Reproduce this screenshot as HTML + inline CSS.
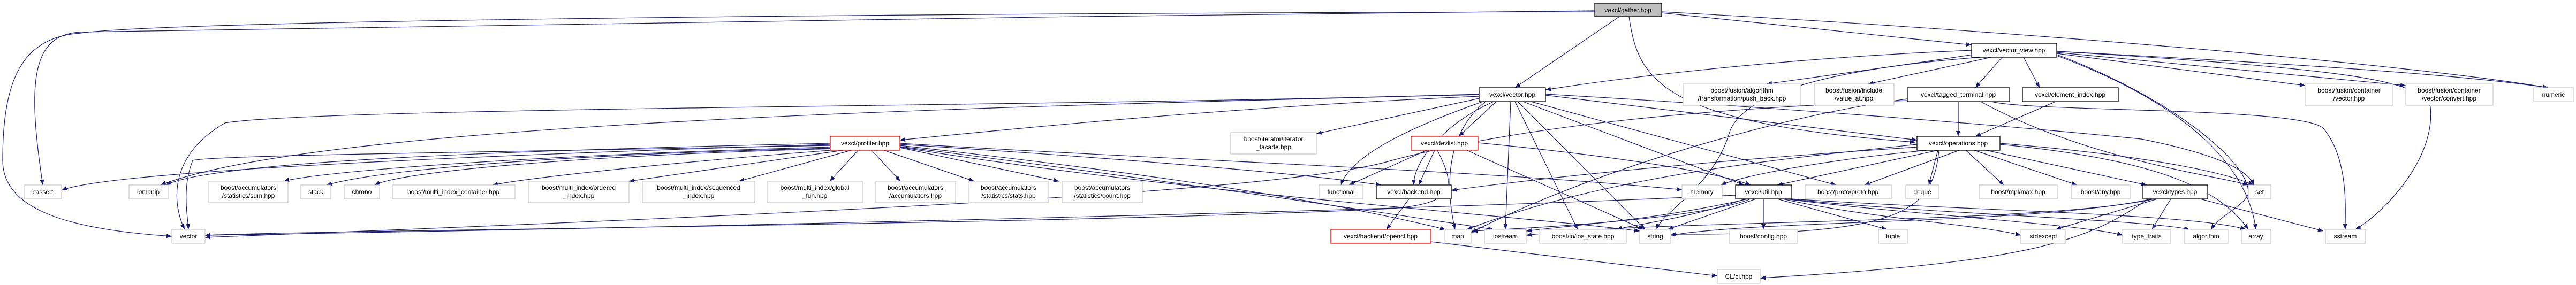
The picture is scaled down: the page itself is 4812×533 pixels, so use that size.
<!DOCTYPE html>
<html><head><meta charset="utf-8"><style>
html,body{margin:0;padding:0;background:#fff;}
svg{display:block;}
text{font-family:"Liberation Sans",sans-serif;font-size:12px;fill:#000;text-anchor:middle;}
.e{fill:none;stroke:#191970;stroke-width:1.2;marker-end:url(#a);}
.l{fill:#fff;stroke:#bfbfbf;}
.d{fill:#fff;stroke:#000;stroke-width:1.3;}
.r{fill:#fff;stroke:#ff0000;stroke-width:1.3;}
</style></head><body>
<svg width="4812" height="533" viewBox="0 0 4812 533" xmlns="http://www.w3.org/2000/svg">
<defs><marker id="a" markerUnits="userSpaceOnUse" markerWidth="10" markerHeight="8" refX="10" refY="4" orient="auto"><path d="M0,0 L10,4 L0,8 z" fill="#191970"/></marker></defs>
<g>
<!-- gather -->
<path class="e" d="M3025,31 L2830,164"/>
<path class="e" d="M3043,31 C3060,150 3100,230 3578,266"/>
<path class="e" d="M3104,24 L3683,84"/>
<path class="e" d="M3104,22 C3800,60 4500,120 4760,164"/>
<path class="e" d="M2979,20 C2000,30 500,50 150,60 C60,65 50,150 80,346"/>
<path class="e" d="M2979,22 C1500,25 300,40 150,62 C40,70 5,150 5,300 C5,400 150,430 321,442"/>
<!-- vector_view -->
<path class="e" d="M3683,94 C3300,110 3000,150 2887,168"/>
<path class="e" d="M3700,100 C3500,130 3350,150 3300,157"/>
<path class="e" d="M3720,107 L3490,157"/>
<path class="e" d="M3740,107 L3690,164"/>
<path class="e" d="M3780,107 L3810,164"/>
<path class="e" d="M3842,100 L4306,160"/>
<path class="e" d="M3842,98 L4494,160"/>
<path class="e" d="M3842,96 C4300,120 4600,140 4760,164"/>
<path class="e" d="M3842,102 C4050,180 4200,300 4200,360 C4200,380 4150,400 4130,429"/>
<path class="e" d="M3842,104 C4100,200 4200,320 4214,429"/>
<path class="e" d="M3842,96 C4400,130 4520,150 4540,200 C4550,300 4450,400 4400,429"/>
<path class="e" d="M3700,107 C3400,130 3250,180 3230,250 C3200,350 3100,400 3095,429"/>
<!-- vexcl/vector -->
<path class="e" d="M2763,180 C2300,200 1900,240 1681,262"/>
<path class="e" d="M2763,184 L2459,250"/>
<path class="e" d="M2795,190 L2725,255"/>
<path class="e" d="M2790,190 C2700,230 2640,300 2641,346"/>
<path class="e" d="M2770,190 C2600,250 2520,300 2505,346"/>
<path class="e" d="M2822,190 L2812,429"/>
<path class="e" d="M2830,190 L2947,429"/>
<path class="e" d="M2835,190 L3073,429"/>
<path class="e" d="M2845,190 L3258,346"/>
<path class="e" d="M2860,190 L3430,346"/>
<path class="e" d="M2887,178 L3581,262"/>
<path class="e" d="M2887,176 C3300,200 3700,230 4000,260 C4150,290 4200,320 4210,346"/>
<path class="e" d="M2775,190 C2700,250 2700,350 2718,429"/>
<path class="e" d="M2763,176 C2000,200 600,200 420,230 C300,300 330,400 345,429"/>
<path class="e" d="M2763,177 C1800,200 600,230 300,346"/>
<!-- profiler -->
<path class="e" d="M1551,270 C900,290 200,320 115,356"/>
<path class="e" d="M1551,268 C1000,280 400,300 310,346"/>
<path class="e" d="M1551,272 C900,285 400,290 360,300 C340,350 350,400 352,429"/>
<path class="e" d="M1551,275 C1000,290 600,320 530,339"/>
<path class="e" d="M1555,277 C1000,290 700,320 610,346"/>
<path class="e" d="M1560,278 C1100,290 750,320 700,346"/>
<path class="e" d="M1565,280 C1300,300 1000,330 920,346"/>
<path class="e" d="M1575,281 L1175,339"/>
<path class="e" d="M1590,281 L1380,339"/>
<path class="e" d="M1603,281 L1550,339"/>
<path class="e" d="M1628,281 L1682,339"/>
<path class="e" d="M1651,281 L1820,339"/>
<path class="e" d="M1681,276 L1978,339"/>
<path class="e" d="M1681,268 C2200,300 2800,320 3142,355"/>
<path class="e" d="M1681,270 C2000,290 2400,320 2580,346"/>
<path class="e" d="M1681,272 C2200,330 2500,380 2700,429"/>
<path class="e" d="M1681,274 C2200,340 2600,400 2790,429"/>
<path class="e" d="M1681,275 C2200,360 2800,400 3063,432"/>
<!-- devlist -->
<path class="e" d="M2665,281 L2520,346"/>
<path class="e" d="M2680,281 L2650,346"/>
<path class="e" d="M2761,267 C3000,290 3200,320 3270,346"/>
<path class="e" d="M2740,281 L3070,429"/>
<path class="e" d="M2685,281 C2720,350 2720,380 2600,390 C2000,420 600,430 383,440"/>
<!-- backend/opencl -->
<path class="e" d="M2632,372 L2590,429"/>
<path class="e" d="M2673,452 L3208,516"/>
<path class="e" d="M4013,372 C3900,450 3800,490 3288,520"/>
<!-- util -->
<path class="e" d="M3270,372 C3200,400 3000,420 2750,432"/>
<path class="e" d="M3265,372 C3100,410 2950,420 2851,432"/>
<path class="e" d="M3260,372 C3150,410 3050,420 3020,429"/>
<path class="e" d="M3280,372 L3115,429"/>
<path class="e" d="M3294,372 L3294,429"/>
<path class="e" d="M3320,372 L3525,429"/>
<path class="e" d="M3330,372 C3500,410 3700,420 3775,440"/>
<path class="e" d="M3335,372 C3550,400 3900,420 3965,440"/>
<path class="e" d="M3340,372 C3600,400 4000,410 4090,429"/>
<path class="e" d="M3345,372 C3700,395 4100,400 4195,429"/>
<path class="e" d="M3242,365 C2500,400 1000,430 383,440"/>
<!-- operations -->
<path class="e" d="M3581,275 C3200,300 2900,330 2711,356"/>
<path class="e" d="M3600,281 C3400,300 3250,330 3215,346"/>
<path class="e" d="M3620,281 L3320,346"/>
<path class="e" d="M3660,281 L3483,346"/>
<path class="e" d="M3620,281 L3603,346"/>
<path class="e" d="M3672,281 L3743,346"/>
<path class="e" d="M3688,281 L3880,346"/>
<path class="e" d="M3710,281 L4010,346"/>
<path class="e" d="M3736,268 C4000,290 4150,320 4210,346"/>
<path class="e" d="M3736,270 C4050,300 4150,360 4200,429"/>
<path class="e" d="M3581,270 C3300,300 3000,330 2740,429"/>
<path class="e" d="M3622,281 C3610,400 3550,440 3121,438"/>
<!-- types -->
<path class="e" d="M4030,372 L3840,429"/>
<path class="e" d="M4055,372 L4020,429"/>
<path class="e" d="M4110,372 L4340,432"/>
<path class="e" d="M4020,372 C3800,420 3300,410 3121,440"/>
<path class="e" d="M4025,372 C3800,420 3100,410 2851,440"/>
<!-- tagged / element_index -->
<path class="e" d="M3658,190 L3658,255"/>
<path class="e" d="M3700,190 C3900,300 4150,330 4200,346"/>
<path class="e" d="M3720,190 C3800,210 4300,200 4340,240 C4390,300 4380,400 4381,429"/>
<path class="e" d="M3563,185 C3300,220 2950,330 2748,435"/>
<path class="e" d="M3840,190 L3690,255"/>
<path class="e" d="M3563,188 C3300,200 2900,220 2600,300 C2400,360 1500,400 383,444"/>
</g>
<g>
<rect x="2979" y="6" width="125" height="25" fill="#bfbfbf" stroke="#000" stroke-width="1.3"/><text x="3041" y="23">vexcl/gather.hpp</text>
<rect class="d" x="3683" y="81" width="159" height="26"/><text x="3762" y="98">vexcl/vector_view.hpp</text>
<rect class="d" x="2763" y="164" width="124" height="26"/><text x="2825" y="181">vexcl/vector.hpp</text>
<rect class="l" x="3144" y="157" width="220" height="40"/><text x="3254" y="173">boost/fusion/algorithm</text><text x="3254" y="188">/transformation/push_back.hpp</text>
<rect class="l" x="3389" y="157" width="149" height="40"/><text x="3463" y="173">boost/fusion/include</text><text x="3463" y="188">/value_at.hpp</text>
<rect class="d" x="3563" y="164" width="191" height="26"/><text x="3658" y="181">vexcl/tagged_terminal.hpp</text>
<rect class="d" x="3778" y="164" width="179" height="26"/><text x="3867" y="181">vexcl/element_index.hpp</text>
<rect class="l" x="4306" y="157" width="164" height="40"/><text x="4388" y="173">boost/fusion/container</text><text x="4388" y="188">/vector.hpp</text>
<rect class="l" x="4494" y="157" width="163" height="40"/><text x="4575" y="173">boost/fusion/container</text><text x="4575" y="188">/vector/convert.hpp</text>
<rect class="l" x="4733" y="164" width="74" height="26"/><text x="4770" y="181">numeric</text>
<rect class="l" x="2299" y="248" width="160" height="40"/><text x="2379" y="264">boost/iterator/iterator</text><text x="2379" y="279">_facade.hpp</text>
<rect class="r" x="1551" y="255" width="130" height="26"/><text x="1616" y="272">vexcl/profiler.hpp</text>
<rect class="r" x="2636" y="255" width="125" height="26"/><text x="2698" y="272">vexcl/devlist.hpp</text>
<rect class="d" x="3581" y="255" width="155" height="26"/><text x="3658" y="272">vexcl/operations.hpp</text>
<rect class="l" x="46" y="346" width="69" height="26"/><text x="80" y="363">cassert</text>
<rect class="l" x="241" y="346" width="73" height="26"/><text x="277" y="363">iomanip</text>
<rect class="l" x="390" y="339" width="148" height="40"/><text x="464" y="355">boost/accumulators</text><text x="464" y="370">/statistics/sum.hpp</text>
<rect class="l" x="562" y="346" width="56" height="26"/><text x="590" y="363">stack</text>
<rect class="l" x="643" y="346" width="66" height="26"/><text x="676" y="363">chrono</text>
<rect class="l" x="733" y="346" width="229" height="26"/><text x="847" y="363">boost/multi_index_container.hpp</text>
<rect class="l" x="987" y="339" width="188" height="40"/><text x="1081" y="355">boost/multi_index/ordered</text><text x="1081" y="370">_index.hpp</text>
<rect class="l" x="1200" y="339" width="210" height="40"/><text x="1305" y="355">boost/multi_index/sequenced</text><text x="1305" y="370">_index.hpp</text>
<rect class="l" x="1434" y="339" width="177" height="40"/><text x="1522" y="355">boost/multi_index/global</text><text x="1522" y="370">_fun.hpp</text>
<rect class="l" x="1636" y="339" width="149" height="40"/><text x="1710" y="355">boost/accumulators</text><text x="1710" y="370">/accumulators.hpp</text>
<rect class="l" x="1810" y="339" width="148" height="40"/><text x="1884" y="355">boost/accumulators</text><text x="1884" y="370">/statistics/stats.hpp</text>
<rect class="l" x="1984" y="339" width="150" height="40"/><text x="2059" y="355">boost/accumulators</text><text x="2059" y="370">/statistics/count.hpp</text>
<rect class="l" x="2464" y="346" width="82" height="26"/><text x="2505" y="363">functional</text>
<rect class="d" x="2571" y="346" width="140" height="26"/><text x="2641" y="363">vexcl/backend.hpp</text>
<rect class="l" x="3142" y="346" width="75" height="26"/><text x="3179" y="363">memory</text>
<rect class="d" x="3242" y="346" width="105" height="26"/><text x="3294" y="363">vexcl/util.hpp</text>
<rect class="l" x="3372" y="346" width="161" height="26"/><text x="3452" y="363">boost/proto/proto.hpp</text>
<rect class="l" x="3560" y="346" width="62" height="26"/><text x="3591" y="363">deque</text>
<rect class="l" x="3697" y="346" width="146" height="26"/><text x="3770" y="363">boost/mpl/max.hpp</text>
<rect class="l" x="3869" y="346" width="110" height="26"/><text x="3924" y="363">boost/any.hpp</text>
<rect class="d" x="4003" y="346" width="121" height="26"/><text x="4063" y="363">vexcl/types.hpp</text>
<rect class="l" x="4200" y="346" width="42" height="26"/><text x="4221" y="363">set</text>
<rect class="l" x="321" y="429" width="62" height="26"/><text x="352" y="446">vector</text>
<rect class="r" x="2486" y="429" width="187" height="26"/><text x="2579" y="446">vexcl/backend/opencl.hpp</text>
<rect class="l" x="2698" y="429" width="50" height="26"/><text x="2723" y="446">map</text>
<rect class="l" x="2773" y="429" width="78" height="26"/><text x="2812" y="446">iostream</text>
<rect class="l" x="2876" y="429" width="162" height="26"/><text x="2957" y="446">boost/io/ios_state.hpp</text>
<rect class="l" x="3063" y="429" width="58" height="26"/><text x="3092" y="446">string</text>
<rect class="l" x="3231" y="429" width="127" height="26"/><text x="3294" y="446">boost/config.hpp</text>
<rect class="l" x="3509" y="429" width="54" height="26"/><text x="3536" y="446">tuple</text>
<rect class="l" x="3775" y="429" width="84" height="26"/><text x="3817" y="446">stdexcept</text>
<rect class="l" x="3965" y="429" width="90" height="26"/><text x="4010" y="446">type_traits</text>
<rect class="l" x="4080" y="429" width="82" height="26"/><text x="4121" y="446">algorithm</text>
<rect class="l" x="4187" y="429" width="55" height="26"/><text x="4214" y="446">array</text>
<rect class="l" x="4344" y="429" width="75" height="26"/><text x="4381" y="446">sstream</text>
<rect class="l" x="3208" y="504" width="80" height="26"/><text x="3248" y="521">CL/cl.hpp</text>
</g>
</svg>
</body></html>
